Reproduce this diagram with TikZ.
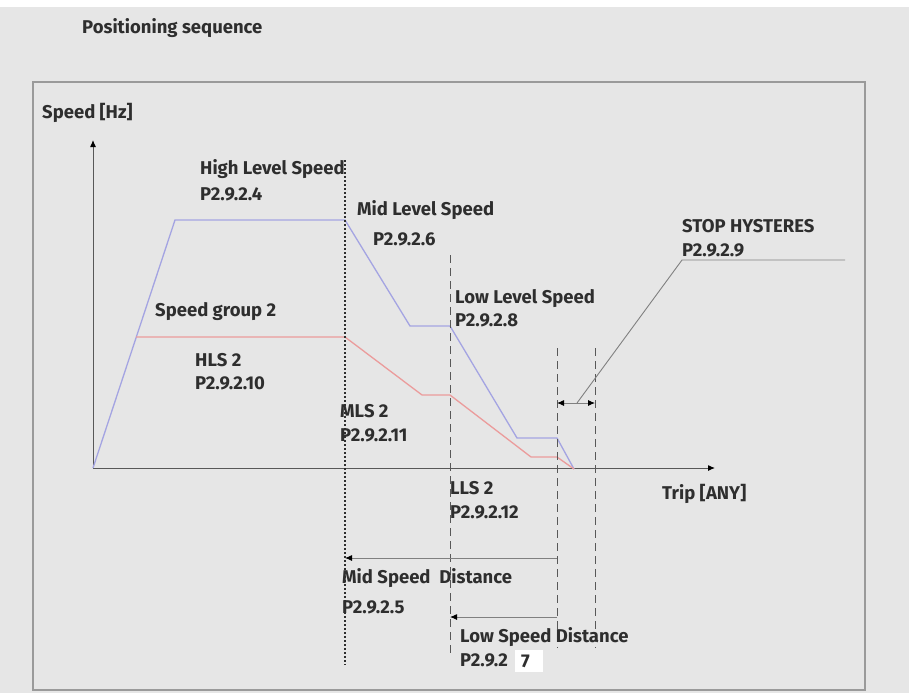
\documentclass[tikz,border=0pt]{standalone}
\usepackage{fontspec}
\setmainfont{Fira Sans}
\usetikzlibrary{arrows.meta}
\definecolor{bg}{HTML}{E6E6E6}
\definecolor{frm}{HTML}{9A9A9A}
\definecolor{txt}{HTML}{2E2E2E}
\definecolor{hiline}{HTML}{A4A4E2}
\definecolor{loline}{HTML}{EB9C9C}
\tikzset{lbl/.style={anchor=base west, inner sep=0pt, text=txt, font=\fontsize{18.5}{21}\selectfont\bfseries}}
\tikzset{guide/.style={draw=txt!80, dash pattern=on 8pt off 5pt, line width=0.9pt}}
\tikzset{tip/.style={-{Latex[length=7pt,width=6pt,color=black]}}}
\tikzset{dimline/.style={draw=gray, line width=0.9pt, tip}}

\begin{document}
\begin{tikzpicture}[x=1pt,y=-1pt]
\useasboundingbox (0,0) rectangle (909,693);
\fill[bg] (0,0) rectangle (909,693);
\fill[white] (0,0) rectangle (909,7);
\draw[frm, line width=1.6pt] (33,82) rectangle (865,690);

\node[lbl, font=\fontsize{18.5}{21}\selectfont\bfseries] (title) at (82,34) {Positioning sequence};

%axes
\coordinate (o) at (93,468);
\coordinate (ytop) at (93,140);
\coordinate (xend) at (715,468);
\draw[txt!80, line width=1pt, tip] (o) -- (ytop);
\draw[txt!80, line width=1pt, tip] (o) -- (xend);
\node[lbl] (yl) at (42,118) {Speed [Hz]};
\node[lbl] (xl) at (662,499) {Trip [ANY]};

%speed curves
\coordinate (b1) at (175,220);
\coordinate (b2) at (345,220);
\coordinate (b3) at (410,326);
\coordinate (b4) at (450,326);
\coordinate (b5) at (517,438);
\coordinate (b6) at (557,438);
\coordinate (stop) at (574,469);
\coordinate (r1) at (136,337);
\coordinate (r2) at (345,337);
\coordinate (r3) at (422,395);
\coordinate (r4) at (450,395);
\coordinate (r5) at (531,457);
\coordinate (r6) at (557,457);
\draw[hiline, line width=1.3pt] (o) -- (b1) -- (b2) -- (b3) -- (b4) -- (b5) -- (b6) -- (stop);
\draw[loline, line width=1.3pt] (r1) -- (r2) -- (r3) -- (r4) -- (r5) -- (r6) -- (stop);

%guide lines
\draw[txt, line width=1.3pt, dash pattern=on 1.5pt off 2.5pt] (345,160) -- (345,665);
\draw[guide] (450,255) -- (450,655);
\draw[guide] (557,348) -- (557,648);
\draw[guide] (595,348) -- (595,648);

%distances
\coordinate (md0) at (557,558);
\coordinate (md1) at (345,558);
\coordinate (ld0) at (557,617);
\coordinate (ld1) at (450,617);
\draw[dimline] (md0) -- (md1);
\draw[dimline] (ld0) -- (ld1);

%stop hysteresis
\coordinate (h0) at (557,403);
\coordinate (h1) at (595,403);
\coordinate (hm) at (577,403);
\coordinate (hk) at (682,260);
\coordinate (he) at (845,260);
\draw[dimline, {Latex[length=7pt,width=6pt,color=black]}-{Latex[length=7pt,width=6pt,color=black]}] (h0) -- (h1);
\draw[gray, line width=0.9pt] (hm) -- (hk) -- (he);

\node[lbl] (hls) at (200,174) {High Level Speed};
\node[lbl] (hlsp) at (200,200) {P2.9.2.4};
\node[lbl] (mls) at (357,215) {Mid Level Speed};
\node[lbl] (mlsp) at (373,245) {P2.9.2.6};
\node[lbl] (grp) at (155,316) {Speed group 2};
\node[lbl] (hls2) at (195,366) {HLS 2};
\node[lbl] (hls2p) at (195,389) {P2.9.2.10};
\node[lbl] (mls2) at (340,417) {MLS 2};
\node[lbl] (mls2p) at (340,441) {P2.9.2.11};
\node[lbl] (lls) at (455,303) {Low Level Speed};
\node[lbl] (llsp) at (455,326) {P2.9.2.8};
\node[lbl] (hys) at (682,232) {STOP HYSTERES};
\node[lbl] (hysp) at (682,256) {P2.9.2.9};
\node[lbl] (lls2) at (450,494) {LLS 2};
\node[lbl] (lls2p) at (450,518) {P2.9.2.12};
\node[lbl] (mdist) at (342,583) {Mid Speed\ \ Distance};
\node[lbl] (mdistp) at (342,613) {P2.9.2.5};
\node[lbl] (ldist) at (460,642) {Low Speed Distance};
\node[lbl] (ldistp) at (460,666) {P2.9.2};
\node[fill=white, inner sep=0pt, minimum width=28pt, minimum height=22pt] (box7) at (529,661) {};
\node[lbl] (seven) at (521,667) {7};
\end{tikzpicture}
\end{document}
